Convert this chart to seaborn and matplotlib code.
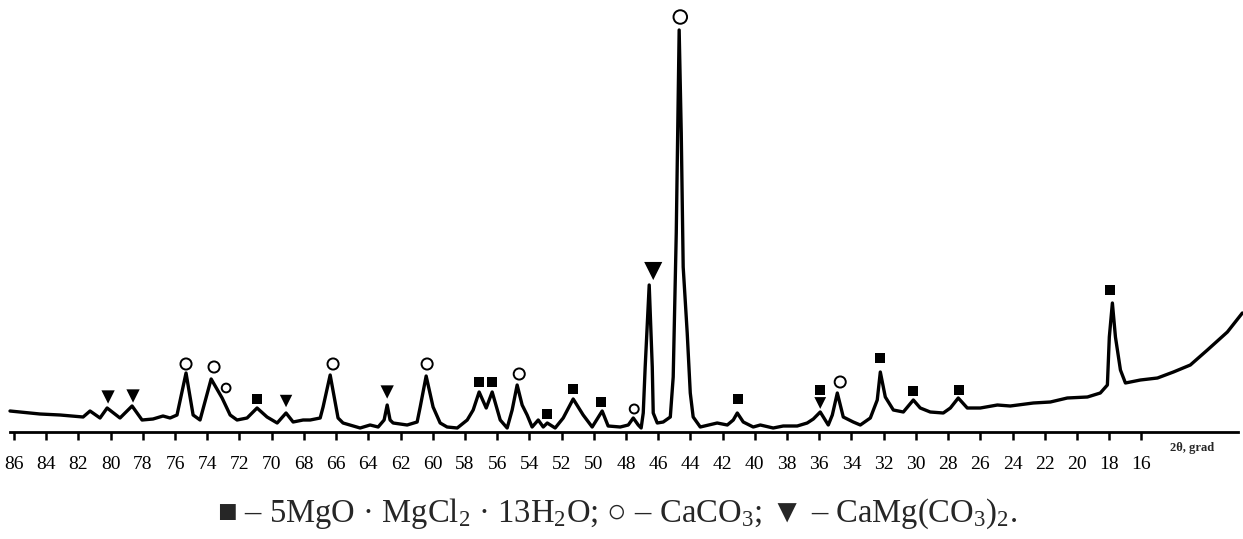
import numpy as np
import pandas as pd
import matplotlib
matplotlib.use("Agg")
import matplotlib.pyplot as plt
import seaborn as sns

# ---- data (2theta in degrees, intensity in arbitrary units) ----
two_theta = [86.25, 84.39, 83.14, 81.71, 81.28, 80.66, 80.22, 79.42, 78.67, 78.05,
             77.37, 76.75, 76.31, 75.88, 75.32, 74.88, 74.45, 73.76, 73.08, 72.58,
             72.15, 71.53, 70.91, 70.29, 69.66, 69.11, 68.67, 68.05, 67.61, 66.99,
             66.81, 66.37, 65.88, 65.57, 64.51, 63.89, 63.39, 63.02, 62.83, 62.65,
             62.46, 61.59, 60.97, 60.78, 60.41, 59.98, 59.54, 59.11, 58.48, 57.86,
             57.49, 57.12, 56.68, 56.31, 55.81, 55.38, 55.07, 54.76, 54.45, 54.14,
             53.83, 53.45, 53.14, 52.89, 52.40, 51.90, 51.28, 50.66, 50.10, 49.48,
             49.11, 48.36, 47.86, 47.55, 47.24, 47.06, 46.93, 46.81, 46.56, 46.37,
             46.31, 46.06, 45.69, 45.25, 45.07, 44.88, 44.76, 44.70, 44.57, 44.45,
             44.20, 44.01, 43.83, 43.39, 42.34, 41.71, 41.34, 41.09, 40.72, 40.10,
             39.66, 38.86, 38.24, 37.37, 36.75, 36.37, 35.94, 35.44, 35.19, 34.88,
             34.51, 33.89, 33.45, 32.83, 32.40, 32.21, 31.90, 31.40, 30.78, 30.16,
             29.73, 29.11, 28.30, 27.86, 27.37, 26.81, 26.00, 24.94, 24.14, 22.71,
             21.65, 20.60, 19.35, 18.55, 18.11, 17.99, 17.80, 17.61, 17.30, 16.99,
             16.06, 15.00, 14.01, 12.96, 11.90, 10.66, 9.73]
intensity = [21, 18, 17, 15, 21, 14, 24, 14, 26, 12,
             13, 16, 14, 17, 59, 17, 12, 53, 34, 17,
             12, 14, 24, 15, 9, 19, 10, 12, 12, 14,
             25, 57, 14, 9, 4, 7, 5, 12, 27, 12,
             9, 7, 10, 25, 56, 25, 9, 5, 4, 12,
             22, 40, 24, 40, 12, 4, 22, 47, 27, 17,
             5, 12, 5, 9, 4, 14, 33, 17, 5, 21,
             6, 5, 7, 14, 7, 4, 19, 65, 147, 65,
             19, 9, 10, 15, 55, 199, 332, 402, 299, 165,
             99, 39, 15, 5, 9, 7, 12, 19, 10, 5,
             7, 4, 6, 6, 9, 13, 20, 7, 17, 39,
             15, 10, 7, 14, 32, 60, 35, 22, 20, 32,
             24, 20, 19, 24, 34, 24, 24, 27, 26, 29,
             30, 34, 35, 39, 47, 95, 129, 95, 62, 49,
             52, 54, 60, 67, 82, 100, 119]

# phase markers: (2theta, height of the symbol)
square_theta = [70.91, 57.12, 56.31, 52.89, 51.28, 49.54, 41.03, 35.94, 32.21, 30.16, 27.30, 17.92]
square_height = [33, 50, 50, 18, 43, 30, 33, 42, 74, 41, 42, 142]
circle_theta = [75.32, 73.58, 72.83, 66.19, 60.35, 54.63, 47.49, 44.63, 34.70]
circle_height = [68, 65, 44, 68, 68, 58, 23, 415, 50]
triangle_theta = [80.16, 78.61, 69.11, 62.83, 46.31, 35.94]
triangle_height = [35, 36, 31, 40, 161, 29]

tick_values = list(range(86, 15, -2))
axis_label = "2θ, grad"
caption = (r"■ – 5MgO · MgCl$_\mathregular{2}$ · 13H$_\mathregular{2}$O; ○ – CaCO$_\mathregular{3}$; "
           r"▼ – CaMg(CO$_\mathregular{3}$)$_\mathregular{2}$.")

# ---- styling ----
sns.set_style("white")
plt.rcParams["font.family"] = ["Liberation Serif", "DejaVu Serif"]
plt.rcParams["mathtext.fontset"] = "custom"
plt.rcParams["mathtext.rm"] = "Liberation Serif"
plt.rcParams["mathtext.it"] = "Liberation Serif:italic"
plt.rcParams["mathtext.bf"] = "Liberation Serif:bold"

W, H = 1243, 539
fig = plt.figure(figsize=(W / 100, H / 100), dpi=100)
ax = fig.add_axes([10 / W, 107 / H, 1228 / W, 432 / H])

df = pd.DataFrame({"theta": two_theta, "I": intensity})
sns.lineplot(data=df, x="theta", y="I", ax=ax, color="black", linewidth=2.4,
             sort=False, estimator=None)
for ln in ax.lines:
    ln.set_clip_on(False)
    ln.set_solid_joinstyle("round")

circle_size = [64, 64, 40, 64, 64, 64, 42, 95, 64]
triangle_size = [92, 92, 80, 92, 170, 72]
sns.scatterplot(x=square_theta, y=square_height, ax=ax, marker="s", s=48,
                color="black", edgecolor="black", linewidth=0, zorder=5, clip_on=False)
sns.scatterplot(x=circle_theta, y=circle_height, ax=ax, marker="o", s=64,
                facecolor="white", edgecolor="black", linewidth=1.4, zorder=5, clip_on=False,
                legend=False)
ax.collections[-1].set_sizes(circle_size)
sns.scatterplot(x=triangle_theta, y=triangle_height, ax=ax, marker="v",
                color="black", edgecolor="black", linewidth=0, zorder=5, clip_on=False,
                legend=False)
ax.collections[-1].set_sizes(triangle_size)

ax.set_xlim(86.25, 10.0)
ax.set_ylim(0, 432)
ax.set_xticks(tick_values)
ax.set_xticklabels([str(t) for t in tick_values], fontsize=14)
ax.set_yticks([])
ax.set_xlabel("")
ax.set_ylabel("")
for side in ["top", "left", "right"]:
    ax.spines[side].set_visible(False)
ax.spines["bottom"].set_linewidth(2.0)
ax.spines["bottom"].set_color("black")
ax.tick_params(axis="x", direction="out", length=6, width=1.8, color="black",
               pad=11, labelcolor="black", bottom=True)
ax.patch.set_alpha(0)

fig.text(1170 / W, 1 - 448 / H, axis_label, fontsize=9, fontweight="bold",
         ha="left", va="center")
fig.text(617 / W, 1 - 514 / H, caption, fontsize=23.5, ha="center", va="center")

fig.savefig("out.png", dpi=100, facecolor="white")
